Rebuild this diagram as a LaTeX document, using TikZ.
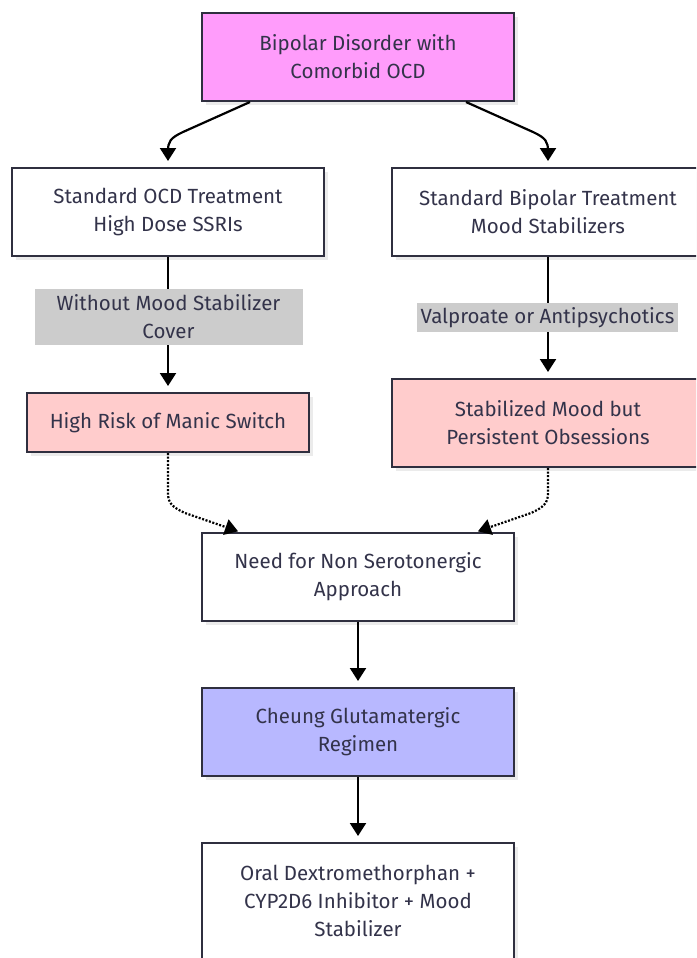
\documentclass[tikz,border=0pt]{standalone}
\usepackage{fontspec}
\setmainfont{Fira Sans}
\usetikzlibrary{arrows.meta,shadows,calc}
\definecolor{edgec}{HTML}{2F2F3F}
\definecolor{txtc}{HTML}{33334A}
\definecolor{topc}{HTML}{FF9CFB}
\definecolor{pinkc}{HTML}{FFCCCC}
\definecolor{bluec}{HTML}{B8B8FF}
\definecolor{lblc}{HTML}{CCCCCC}
\begin{document}
\begin{tikzpicture}[x=1pt,y=-1pt,
  box/.style={draw=edgec, line width=2pt, fill=white, text=txtc, align=center,
    font=\fontsize{20.5}{28}\selectfont, inner sep=0pt,
    drop shadow={shadow xshift=4pt, shadow yshift=-4pt, fill=black, opacity=0.08}},
  lbl/.style={fill=lblc, text=txtc, align=center, font=\fontsize{20.5}{28}\selectfont, inner sep=0pt},
  arr/.style={-{Triangle[length=13pt,width=16pt]}, line width=2.2pt, draw=black, shorten >=6pt},
  dotarr/.style={arr, dash pattern=on 2pt off 1.6pt}
]
\clip (0,0) rectangle (696,958);
\useasboundingbox (0,0) rectangle (696,958);
\fill[white] (0,0) rectangle (696,958);

\node[box, fill=topc, minimum width=312pt, minimum height=88pt] (top) at (358,57) {Bipolar Disorder with\\Comorbid OCD};
\node[box, minimum width=312pt, minimum height=88pt] (A) at (168,212) {Standard OCD Treatment\\High Dose SSRIs};
\node[box, minimum width=312pt, minimum height=88pt] (B) at (548,212) {Standard Bipolar Treatment\\Mood Stabilizers};
\node[box, fill=pinkc, minimum width=282pt, minimum height=59pt] (C) at (168,422.5) {High Risk of Manic Switch};
\node[box, fill=pinkc, minimum width=312pt, minimum height=88pt] (D) at (548,423) {Stabilized Mood but\\Persistent Obsessions};
\node[box, minimum width=312pt, minimum height=88pt] (E) at (358,577) {Need for Non Serotonergic\\Approach};
\node[box, fill=bluec, minimum width=312pt, minimum height=88pt] (F) at (358,732) {Cheung Glutamatergic\\Regimen};
\node[box, minimum width=312pt, minimum height=116pt] (G) at (358,901) {Oral Dextromethorphan +\\CYP2D6 Inhibitor + Mood\\Stabilizer};

\draw[arr] ([xshift=-108pt]top.south) -- ($(A.north)+(15,-35)$)
  .. controls ($(A.north)+(2,-29)$) and ($(A.north)+(0,-25)$) .. ($(A.north)+(0,-16)$) -- (A.north);
\draw[arr] ([xshift=108pt]top.south) -- ($(B.north)+(-15,-35)$)
  .. controls ($(B.north)+(-2,-29)$) and ($(B.north)+(0,-25)$) .. ($(B.north)+(0,-16)$) -- (B.north);

\draw[arr] (A.south) -- (C.north);
\draw[arr] (B.south) -- (D.north);

\coordinate (EL) at ($(E.north)+(-118,0)$);
\coordinate (ER) at ($(E.north)+(118,0)$);
\draw[dotarr, shorten >=2pt] (C.south) -- ($(C.south)+(0,40)$)
  .. controls ($(C.south)+(0,50)$) and ($(C.south)+(4,54)$) .. ($(C.south)+(17,60)$) -- (EL);
\draw[dotarr, shorten >=2pt] (D.south) -- ($(D.south)+(0,25)$)
  .. controls ($(D.south)+(0,35)$) and ($(D.south)+(-4,39)$) .. ($(D.south)+(-17,45)$) -- (ER);

\draw[arr] (E.south) -- (F.north);
\draw[arr] (F.south) -- (G.north);

\node[lbl, minimum width=268pt, minimum height=56pt] (la) at (168.5,317) {Without Mood Stabilizer\\Cover};
\node[lbl, minimum width=261pt, minimum height=29pt] (lb) at (547.5,317.5) {Valproate or Antipsychotics};
\end{tikzpicture}
\end{document}
